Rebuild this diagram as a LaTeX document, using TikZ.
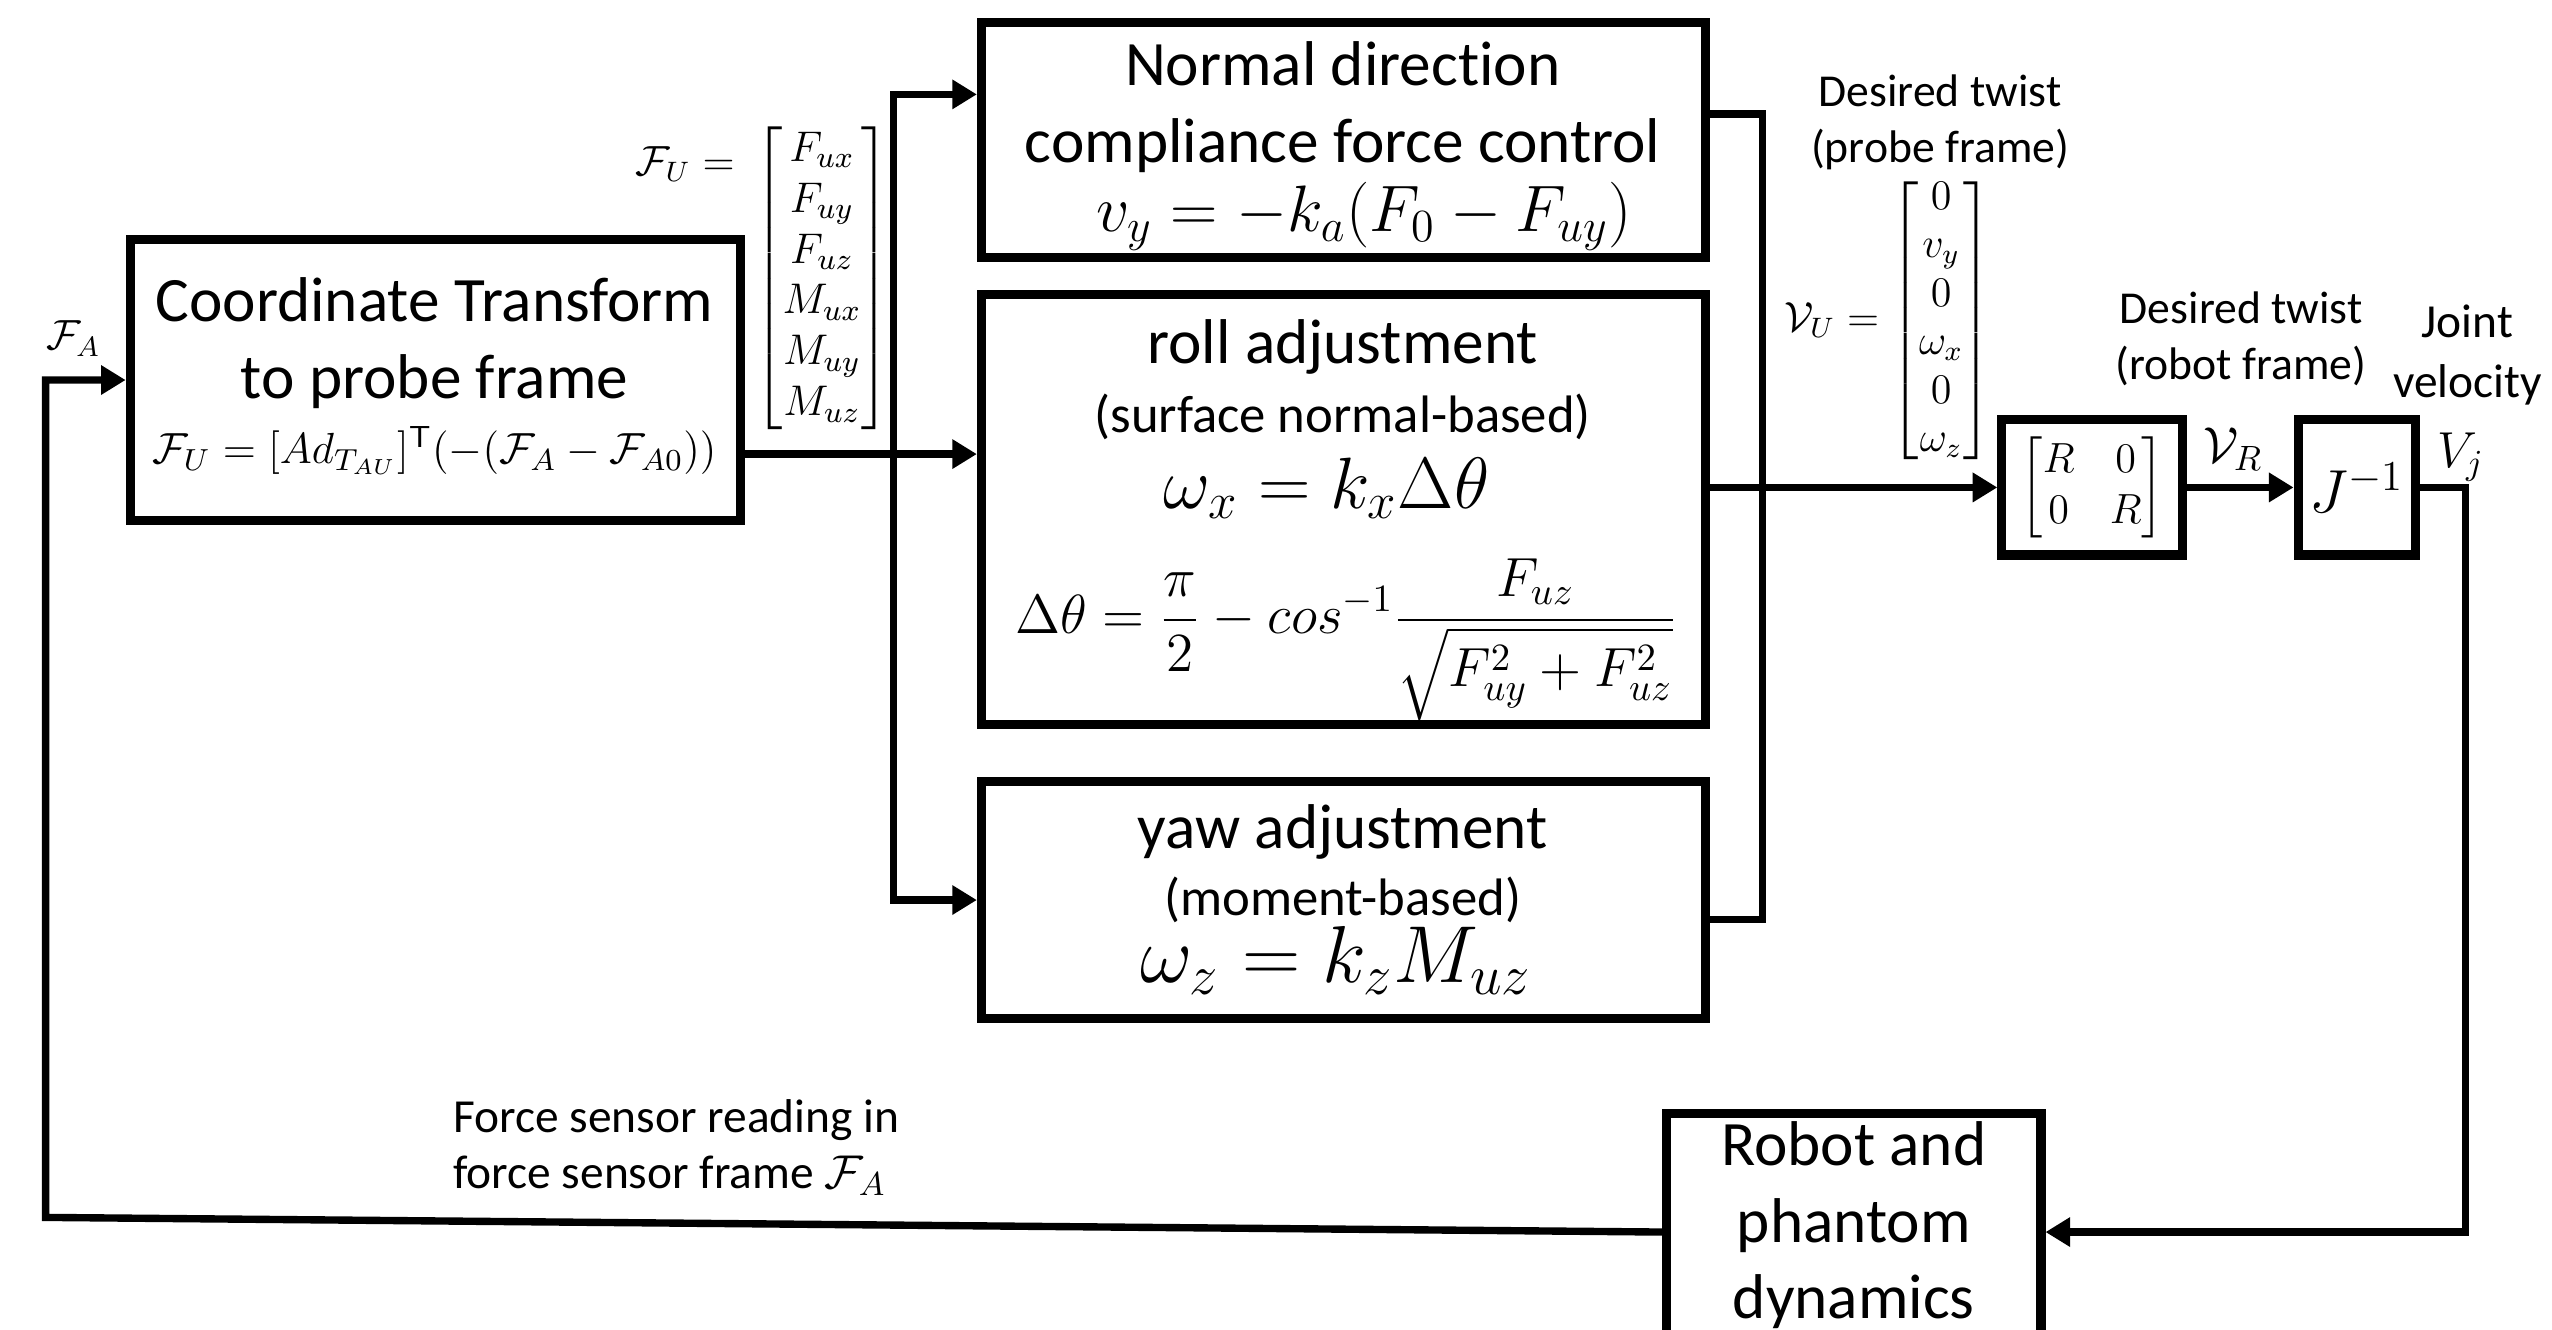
\RequirePackage{fix-cm}
\documentclass[tikz,border=0pt]{standalone}
\usepackage{amsmath}
\usepackage{fontspec}
\setmainfont{Carlito}[Ligatures={NoCommon}]
\usetikzlibrary{arrows.meta,calc}

\newdimen\pxd \pxd=0.016276cm
\newcommand\fsz[2]{\fontsize{#1}{#2}\selectfont}

\begin{document}
\begin{tikzpicture}[x=0.016276cm, y=-0.016276cm,
  blk/.style={draw, line width=2.6pt, inner sep=0pt},
  wire/.style={line width=2.1pt},
  tip/.tip={Triangle[length=7pt,width=8pt]},
  arr/.style={wire, -tip},
  big/.style={font=\fsz{18}{21.8}, align=center, inner sep=0pt},
  sub/.style={font=\fsz{15}{18}, align=center, inner sep=0pt},
  lbl/.style={font=\fsz{13}{16}, align=center, inner sep=0pt},
  eq/.style={inner sep=0pt},
]
\useasboundingbox (0,0) rectangle (1568,817);
\clip (0,0) rectangle (1568,817);

% ---- blocks ----
\node[blk, minimum width=375*\pxd, minimum height=173*\pxd] (CT) at (267.5,233.5) {};
\node[blk, minimum width=445*\pxd, minimum height=144*\pxd] (ND) at (825.5,86) {};
\node[blk, minimum width=445*\pxd, minimum height=264*\pxd] (RA) at (825.5,313) {};
\node[blk, minimum width=445*\pxd, minimum height=146*\pxd] (YA) at (825.5,553) {};
\node[blk, minimum width=111*\pxd, minimum height=83*\pxd, font=\fsz{12}{14.5}] (RB) at (1285.5,299.5)
  {$\begin{bmatrix} R & 0\\ 0 & R\end{bmatrix}$};
\node[blk, minimum width=72*\pxd, minimum height=83*\pxd, font=\fsz{17.3}{20}] (JB) at (1448,299.5) {$J^{-1}$};
\node[blk, minimum width=230*\pxd, minimum height=146*\pxd] (RP) at (1139,757) {};

% ---- block contents ----
\node[big] (ctT) at (267,211) {Coordinate Transform\\to probe frame};
\node[eq, font=\fsz{12.4}{15}] (ctE) at (267,277)
  {$\mathcal{F}_U=[Ad_{T_{AU}}]^{\mathsf{T}}(-(\mathcal{F}_A-\mathcal{F}_{A0}))$};

\node[big] (ndT) at (825,66) {Normal direction\\compliance force control};
\node[eq, font=\fsz{18.7}{22}] (ndE) at (838,133) {$v_y=-k_a(F_0-F_{uy})$};

\node[big] (raT) at (825,213) {roll adjustment};
\node[sub] (raS) at (825,256) {(surface normal-based)};
\node[eq, font=\fsz{20.7}{24}] (raE1) at (815,300) {$\omega_x=k_x\Delta\theta$};
\node[eq, font=\fsz{15.7}{18}] (raE2) at (827,393)
  {$\displaystyle\Delta\theta=\frac{\pi}{2}-cos^{-1}\frac{F_{uz}}{\sqrt{F_{uy}^2+F_{uz}^2}}$};

\node[big] (yaT) at (825,511) {yaw adjustment};
\node[sub] (yaS) at (825,553) {(moment-based)};
\node[eq, font=\fsz{23}{27}] (yaE) at (821,590) {$\omega_z=k_zM_{uz}$};

\node[big] (rpT) at (1139,753) {Robot and\\phantom\\dynamics};

% ---- signal labels ----
\node[eq, font=\fsz{12}{15}] (fa) at (45,208) {$\mathcal{F}_A$};
\node[eq, font=\fsz{12}{15}] (fuL) at (421,101) {$\mathcal{F}_U=$};
\node[eq, font=\fsz{12.2}{14.5}] (fu) at (505,171)
  {$\begin{bmatrix}F_{ux}\\F_{uy}\\F_{uz}\\M_{ux}\\M_{uy}\\M_{uz}\end{bmatrix}$};
\node[lbl] (dtp) at (1192,75) {Desired twist\\(probe frame)};
\node[eq, font=\fsz{12}{13.8}] (vu) at (1160,197)
  {$\mathcal{V}_U=\begin{bmatrix}0\\v_y\\0\\\omega_x\\0\\\omega_z\end{bmatrix}$};
\node[lbl] (dtr) at (1377,208) {Desired twist\\(robot frame)};
\node[lbl, font=\fsz{13.5}{17}] (jv) at (1516,218) {Joint\\velocity};
\node[eq, font=\fsz{14.4}{16}] (vr) at (1372,276) {$\mathcal{V}_R$};
\node[eq, font=\fsz{14.4}{16}] (vj) at (1512,281) {$V_j$};
\node[lbl, font=\fsz{13.5}{16}, align=left, anchor=west] (fsr) at (278,705)
  {Force sensor reading in\\force sensor frame $\mathcal{F}_A$};

% ---- connectors ----
\coordinate (sT) at (549,58);
\coordinate (sB) at (549,553);
\coordinate (sM) at (549,279);
\coordinate (mT) at (1083,70);
\coordinate (mB) at (1083,565);
\coordinate (jo) at (1515,299.5);
\coordinate (fbL) at (28,748);

\draw[arr] (CT.east |- sM) -- (RA.west |- sM);
\draw[wire, tip-tip] (ND.west |- sT) -- (sT) -- (sB) -- (YA.west |- sB);
\draw[wire] (ND.east |- mT) -- (mT) -- (mB) -- (YA.east |- mB);
\draw[arr] (RA.east |- RB.west) -- (RB.west);
\draw[arr] (RB.east) -- (JB.west);
\draw[arr] (JB.east) -- (jo) |- (RP.east);
\draw[arr] (RP.west) -- (fbL) |- (CT.west);
\end{tikzpicture}
\end{document}
